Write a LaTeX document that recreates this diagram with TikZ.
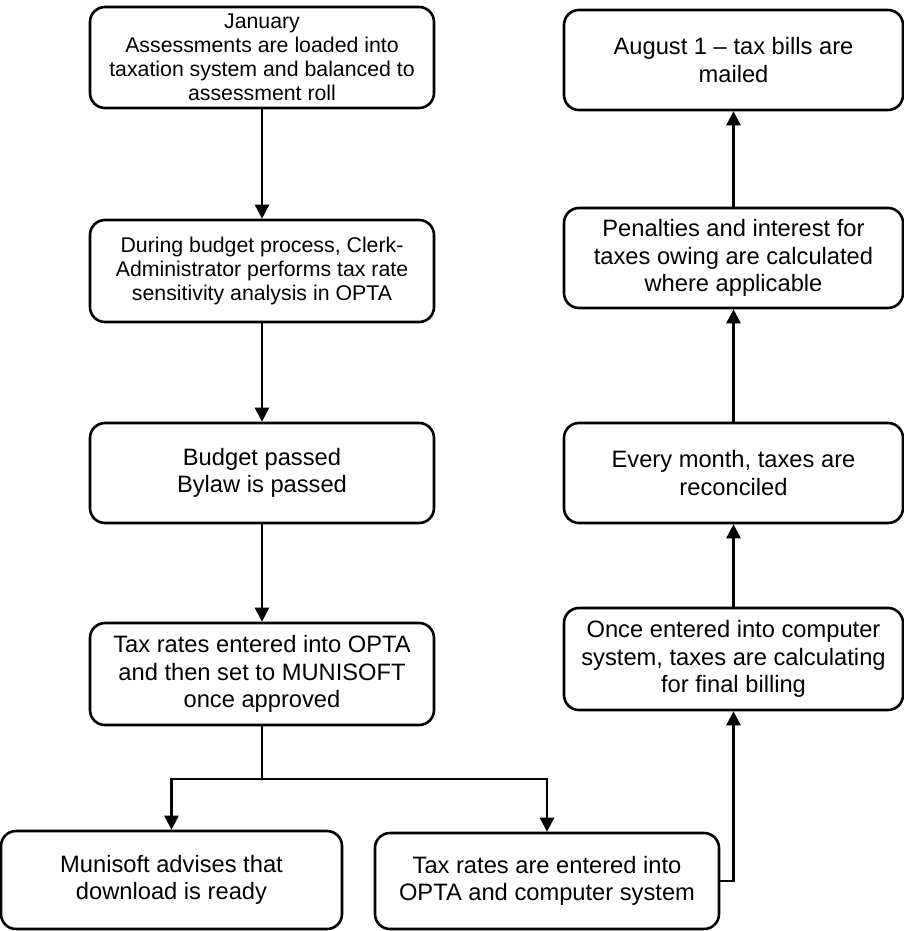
\documentclass[tikz,border=0pt]{standalone}
\usepackage{fontspec}
\setmainfont{Liberation Sans}
\usetikzlibrary{arrows.meta}

\begin{document}
\begin{tikzpicture}[x=1pt, y=-1pt,
  stepbox/.style={draw=black, line width=2.6pt, rounded corners=15pt,
    align=center, inner sep=0pt, font=\fontsize{23.7}{27.5}\selectfont},
  smalltext/.style={font=\fontsize{21.3}{24}\selectfont},
  flow/.style={line width=2.6pt, -{Triangle[length=14pt, width=14pt]}},
  link/.style={line width=2.6pt}]

  \useasboundingbox (0,0) rectangle (904,931);

  % left column
  \node[stepbox, smalltext, minimum width=344pt, minimum height=101pt] (b1) at (262,57.5)
    {January\\Assessments are loaded into\\taxation system and balanced to\\assessment roll};
  \node[stepbox, smalltext, minimum width=344pt, minimum height=102pt] (b2) at (262,271)
    {During budget process, Clerk-\\Administrator performs tax rate\\sensitivity analysis in OPTA};
  \node[stepbox, minimum width=344pt, minimum height=100pt] (b3) at (262,473)
    {Budget passed\\Bylaw is passed};
  \node[stepbox, minimum width=344pt, minimum height=102pt] (b4) at (262,674)
    {Tax rates entered into OPTA\\and then set to MUNISOFT\\once approved};

  % bottom row
  \node[stepbox, minimum width=341pt, minimum height=98pt] (b5) at (171.5,880)
    {Munisoft advises that\\download is ready};
  \node[stepbox, minimum width=344pt, minimum height=96pt] (b6) at (547,881)
    {Tax rates are entered into\\OPTA and computer system};

  % right column
  \node[stepbox, minimum width=339pt, minimum height=100pt] (r1) at (733.5,60)
    {August 1 -- tax bills are\\mailed};
  \node[stepbox, minimum width=339pt, minimum height=100pt] (r2) at (733.5,258)
    {Penalties and interest for\\taxes owing are calculated\\where applicable};
  \node[stepbox, minimum width=339pt, minimum height=100pt] (r3) at (733.5,473)
    {Every month, taxes are\\reconciled};
  \node[stepbox, minimum width=339pt, minimum height=102pt] (r4) at (733.5,659)
    {Once entered into computer\\system, taxes are calculating\\for final billing};

  % connectors
  \draw[flow] (b1.south) -- (b2.north);
  \draw[flow] (b2.south) -- (b3.north);
  \draw[flow] (b3.south) -- (b4.north);

  \coordinate (split) at (262,779);
  \draw[link] (b4.south) -- (split);
  \draw[flow] (split) -| (b5.north);
  \draw[flow] (split) -| (b6.north);

  \draw[flow] (b6.east) -| (r4.south);
  \draw[flow] (r4.north) -- (r3.south);
  \draw[flow] (r3.north) -- (r2.south);
  \draw[flow] (r2.north) -- (r1.south);
\end{tikzpicture}
\end{document}
